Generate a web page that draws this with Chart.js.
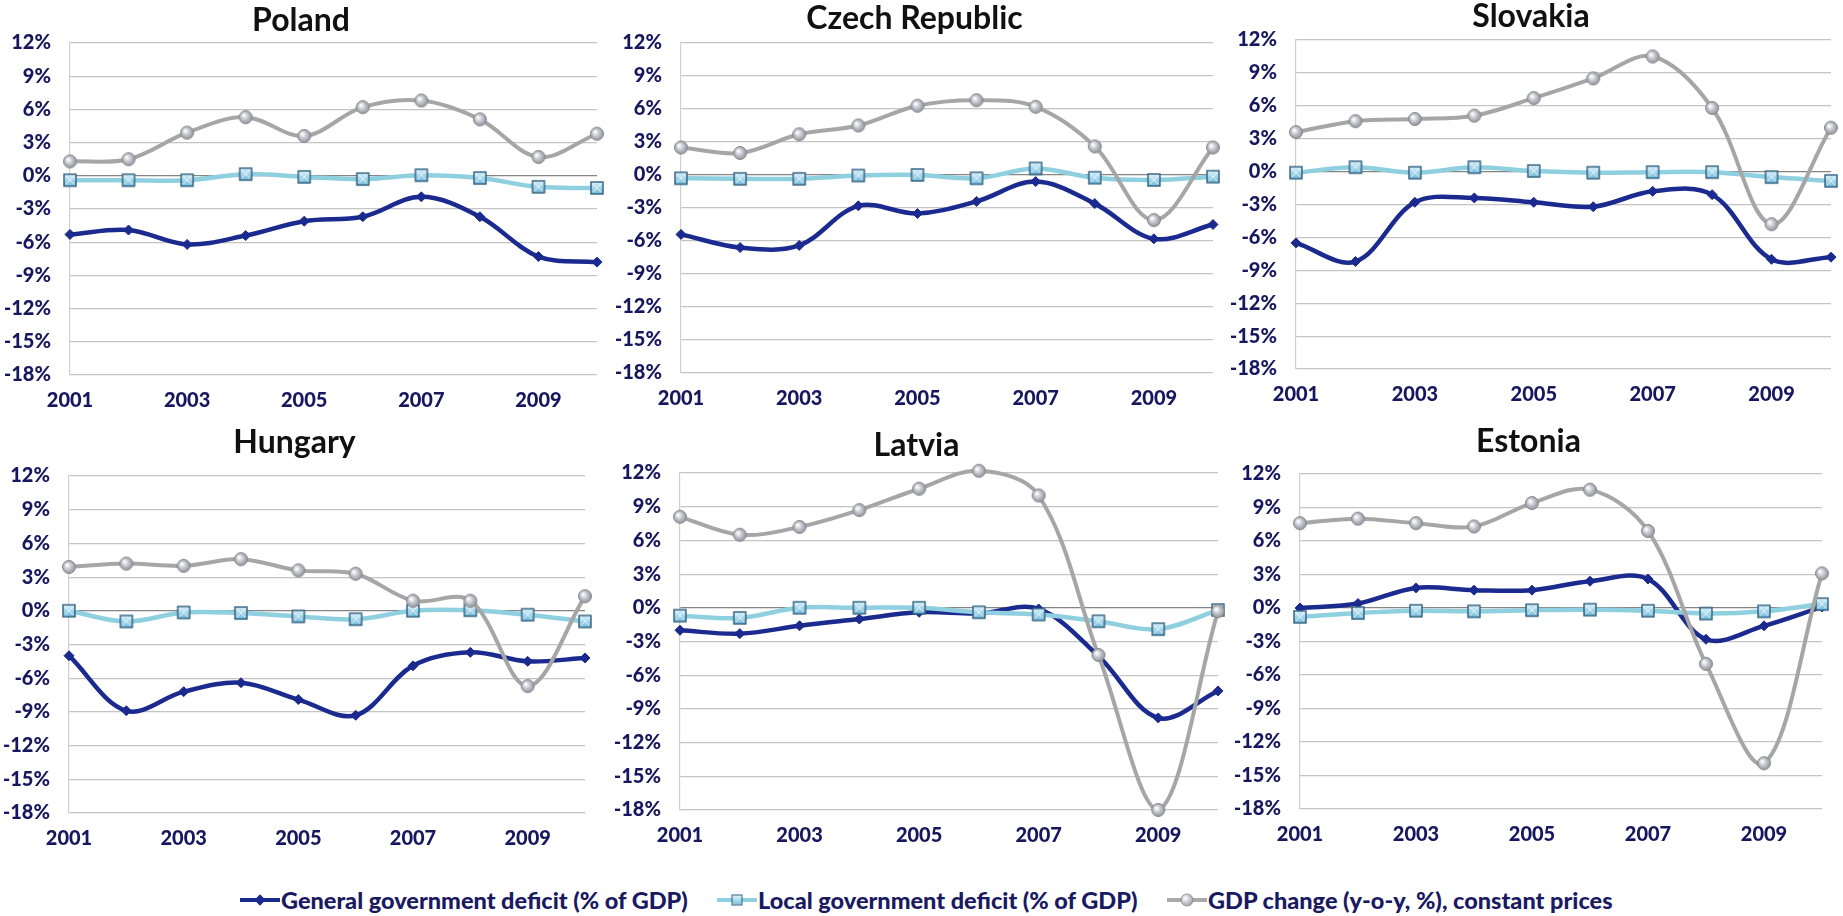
<!DOCTYPE html>
<html>
<head>
<meta charset="utf-8">
<script src="https://cdn.jsdelivr.net/npm/chart.js@4"></script>
<style>
  html, body { margin: 0; padding: 0; background: #fff; overflow: hidden; }
  #wrap { position: relative; width: 1843px; height: 916px; font-family: Lato, "Open Sans", sans-serif; }
  .panel { position: absolute; }
  .legend-item { position: absolute; top: 885px; height: 30px; display: flex; align-items: center;
    font: 900 23.5px Lato, sans-serif; color: #1a1a62; white-space: nowrap; }
  .icon { position: relative; width: 40px; height: 20px; margin-right: 1px; }
  .icon .ln { position: absolute; left: 0; right: 0; top: 8px; height: 4px; }
  .icon .mk { position: absolute; left: 50%; top: 50%; transform: translate(-50%, -50%); }
</style>
</head>
<body>
<div id="wrap">
  <div class="legend-item" style="left:240px">
    <span class="icon"><span class="ln" style="background:#1b2a8e"></span>
      <span class="mk" style="width:8px;height:8px;background:#1b2a8e;transform:translate(-50%,-50%) rotate(45deg)"></span></span>
    General government deficit (% of GDP)
  </div>
  <div class="legend-item" style="left:717px">
    <span class="icon"><span class="ln" style="background:#8ecfe0"></span>
      <span class="mk" style="width:9px;height:9px;background:linear-gradient(#d9f1fa,#7fc2de);border:1px solid #2f5f7f"></span></span>
    Local government deficit (% of GDP)
  </div>
  <div class="legend-item" style="left:1167px">
    <span class="icon"><span class="ln" style="background:#a9a9a9"></span>
      <span class="mk" style="width:11px;height:11px;border-radius:50%;background:radial-gradient(circle at 35% 35%,#fff,#b9bcc4 55%,#8c8f98);border:1px solid #8d8d8d"></span></span>
    GDP change (y-o-y, %), constant prices
  </div>
</div>
<script>
// years on the category axis, every second one is labelled
const years = ['2001', '2002', '2003', '2004', '2005', '2006', '2007', '2008', '2009', '2010'];
const labelledYears = ['2001', '2003', '2005', '2007', '2009'];

// value axis, percent
const yMin = -18;
const yMax = 12;
const yStep = 3;

const seriesNames = [
  'General government deficit (% of GDP)',
  'Local government deficit (% of GDP)',
  'GDP change (y-o-y, %), constant prices'
];

const polandGeneral = [-5.3, -4.9, -6.2, -5.4, -4.1, -3.7, -1.9, -3.7, -7.3, -7.8];
const polandLocal = [-0.4, -0.4, -0.4, 0.15, -0.1, -0.3, 0.05, -0.2, -1.0, -1.1];
const polandGdp = [1.3, 1.5, 3.9, 5.3, 3.6, 6.2, 6.8, 5.1, 1.7, 3.8];

const czechGeneral = [-5.4, -6.6, -6.4, -2.8, -3.5, -2.4, -0.6, -2.6, -5.8, -4.5];
const czechLocal = [-0.3, -0.35, -0.35, -0.05, 0.0, -0.3, 0.6, -0.25, -0.45, -0.15];
const czechGdp = [2.5, 2.0, 3.7, 4.5, 6.3, 6.8, 6.2, 2.6, -4.1, 2.5];

const slovakiaGeneral = [-6.5, -8.2, -2.8, -2.4, -2.8, -3.2, -1.8, -2.1, -8.0, -7.8];
const slovakiaLocal = [-0.1, 0.4, -0.1, 0.4, 0.05, -0.1, -0.05, -0.05, -0.5, -0.85];
const slovakiaGdp = [3.6, 4.6, 4.8, 5.1, 6.7, 8.5, 10.5, 5.8, -4.8, 4.0];

const hungaryGeneral = [-4.0, -8.9, -7.2, -6.4, -7.9, -9.3, -4.9, -3.7, -4.5, -4.2];
const hungaryLocal = [0.0, -0.95, -0.15, -0.2, -0.5, -0.75, 0.0, 0.05, -0.35, -0.95];
const hungaryGdp = [3.9, 4.2, 4.0, 4.6, 3.6, 3.3, 0.9, 0.9, -6.7, 1.3];

const latviaGeneral = [-2.0, -2.3, -1.6, -1.0, -0.4, -0.5, -0.1, -4.3, -9.8, -7.4];
const latviaLocal = [-0.7, -0.9, 0.0, 0.0, 0.0, -0.4, -0.6, -1.2, -1.9, -0.2];
const latviaGdp = [8.1, 6.5, 7.2, 8.7, 10.6, 12.2, 10.0, -4.2, -18.0, -0.3];

const estoniaGeneral = [0.0, 0.4, 1.8, 1.6, 1.6, 2.4, 2.6, -2.8, -1.6, 0.1];
const estoniaLocal = [-0.8, -0.45, -0.25, -0.3, -0.2, -0.15, -0.25, -0.5, -0.3, 0.35];
const estoniaGdp = [7.6, 8.0, 7.6, 7.3, 9.4, 10.6, 6.9, -5.0, -13.9, 3.1];

// where each panel sits on the page (plot area edges and title centre)
const panels = [
  { title: 'Poland', general: polandGeneral, local: polandLocal, gdp: polandGdp,
    rowTop: 0, plotLeft: 70, plotRight: 597, plotTop: 43, plotBottom: 375, titleX: 323, titleY: 21 },
  { title: 'Czech Republic', general: czechGeneral, local: czechLocal, gdp: czechGdp,
    rowTop: 0, plotLeft: 681, plotRight: 1213, plotTop: 43, plotBottom: 373, titleX: 938, titleY: 19 },
  { title: 'Slovakia', general: slovakiaGeneral, local: slovakiaLocal, gdp: slovakiaGdp,
    rowTop: 0, plotLeft: 1296, plotRight: 1831, plotTop: 40, plotBottom: 369, titleX: 1553, titleY: 17 },
  { title: 'Hungary', general: hungaryGeneral, local: hungaryLocal, gdp: hungaryGdp,
    rowTop: 420, plotLeft: 69, plotRight: 585, plotTop: 476, plotBottom: 813, titleX: 327, titleY: 443 },
  { title: 'Latvia', general: latviaGeneral, local: latviaLocal, gdp: latviaGdp,
    rowTop: 420, plotLeft: 680, plotRight: 1218, plotTop: 473, plotBottom: 810, titleX: 956, titleY: 446 },
  { title: 'Estonia', general: estoniaGeneral, local: estoniaLocal, gdp: estoniaGdp,
    rowTop: 420, plotLeft: 1300, plotRight: 1822, plotTop: 474, plotBottom: 809, titleX: 1543, titleY: 442 }
];

const NAVY = '#1b2a8e';
const LIGHT_BLUE = '#8ecfe0';
const GREY = '#a6a6a6';
const TICK_COLOR = '#17175f';
const Y_AXIS_W = 65;
const X_AXIS_H = 40;
const TITLE_SIZE = 32;
const TITLE_LINE = TITLE_SIZE * 1.2;
const TICK_FONT = { family: 'Lato', size: 20, weight: '900' };

// glossy marker sprites used as point styles
function ballMarker() {
  const c = document.createElement('canvas');
  c.width = c.height = 16;
  const ctx = c.getContext('2d');
  const g = ctx.createRadialGradient(6, 6, 0.5, 8, 8, 7.5);
  g.addColorStop(0, '#ffffff');
  g.addColorStop(0.5, '#bcbfc8');
  g.addColorStop(1, '#858892');
  ctx.beginPath();
  ctx.arc(8, 8, 6.5, 0, Math.PI * 2);
  ctx.fillStyle = g;
  ctx.fill();
  ctx.lineWidth = 1;
  ctx.strokeStyle = '#8a8a8a';
  ctx.stroke();
  return c;
}

function boxMarker() {
  const c = document.createElement('canvas');
  c.width = c.height = 16;
  const ctx = c.getContext('2d');
  const g = ctx.createLinearGradient(0, 2, 0, 14);
  g.addColorStop(0, '#d9f1fa');
  g.addColorStop(1, '#74bbd9');
  ctx.fillStyle = g;
  ctx.fillRect(2, 2, 12, 12);
  ctx.strokeStyle = 'rgba(240,250,255,0.8)';
  ctx.lineWidth = 1;
  ctx.beginPath();
  ctx.moveTo(4, 4); ctx.lineTo(12, 12);
  ctx.moveTo(12, 4); ctx.lineTo(4, 12);
  ctx.stroke();
  ctx.strokeStyle = '#2f5f7f';
  ctx.lineWidth = 1.4;
  ctx.strokeRect(2, 2, 12, 12);
  return c;
}

const ball = ballMarker();
const box = boxMarker();
const wrap = document.getElementById('wrap');

panels.forEach(function (p) {
  const left = p.plotLeft - Y_AXIS_W;
  const right = 2 * p.titleX - left;
  const padTop = p.titleY - p.rowTop - TITLE_LINE / 2;
  const padBottom = p.plotTop - p.rowTop - padTop - TITLE_LINE;

  const div = document.createElement('div');
  div.className = 'panel';
  div.style.left = left + 'px';
  div.style.top = p.rowTop + 'px';
  div.style.width = (right - left) + 'px';
  div.style.height = (p.plotBottom + X_AXIS_H - p.rowTop) + 'px';
  const canvas = document.createElement('canvas');
  div.appendChild(canvas);
  wrap.appendChild(div);

  new Chart(canvas, {
    type: 'line',
    data: {
      labels: years,
      datasets: [
        {
          label: seriesNames[0],
          data: p.general,
          borderColor: NAVY,
          backgroundColor: NAVY,
          borderWidth: 4.5,
          pointStyle: 'rectRot',
          pointRadius: 5,
          pointBorderWidth: 1,
          tension: 0.35,
          order: 3,
        },
        {
          label: seriesNames[1],
          data: p.local,
          borderColor: LIGHT_BLUE,
          backgroundColor: LIGHT_BLUE,
          borderWidth: 4.5,
          pointStyle: box,
          tension: 0.35,
          order: 2,
        },
        {
          label: seriesNames[2],
          data: p.gdp,
          borderColor: GREY,
          backgroundColor: GREY,
          borderWidth: 4,
          pointStyle: ball,
          tension: 0.35,
          order: 1,
        },
      ],
    },
    options: {
      responsive: true,
      maintainAspectRatio: false,
      animation: false,
      clip: false,
      layout: { padding: { left: 0, right: right - p.plotRight, top: 0, bottom: 0 } },
      plugins: {
        legend: { display: false },
        tooltip: { enabled: false },
        title: {
          display: true,
          text: p.title,
          color: '#111',
          font: { family: 'Lato', size: TITLE_SIZE, weight: 'bold', lineHeight: 1.2 },
          padding: { top: padTop, bottom: padBottom },
        },
      },
      scales: {
        x: {
          offset: false,
          grid: { display: false, drawTicks: false },
          border: { display: false },
          ticks: {
            autoSkip: false,
            maxRotation: 0,
            padding: 14,
            color: TICK_COLOR,
            font: TICK_FONT,
            callback: function (v, i) {
              const y = years[i];
              return labelledYears.includes(y) ? y : '';
            },
          },
          afterFit: function (s) { s.height = X_AXIS_H; },
        },
        y: {
          min: yMin,
          max: yMax,
          grid: {
            drawTicks: false,
            lineWidth: 1.2,
            color: function (ctx) { return ctx.tick && ctx.tick.value === 0 ? '#858585' : '#c4c4c4'; },
          },
          border: { display: true, color: '#d0d0d0', width: 1.2 },
          ticks: {
            stepSize: yStep,
            padding: 19,
            color: TICK_COLOR,
            font: TICK_FONT,
            callback: function (v) { return v + '%'; },
          },
          afterFit: function (s) { s.width = Y_AXIS_W; },
        },
      },
    },
  });
});
</script>
</body>
</html>
